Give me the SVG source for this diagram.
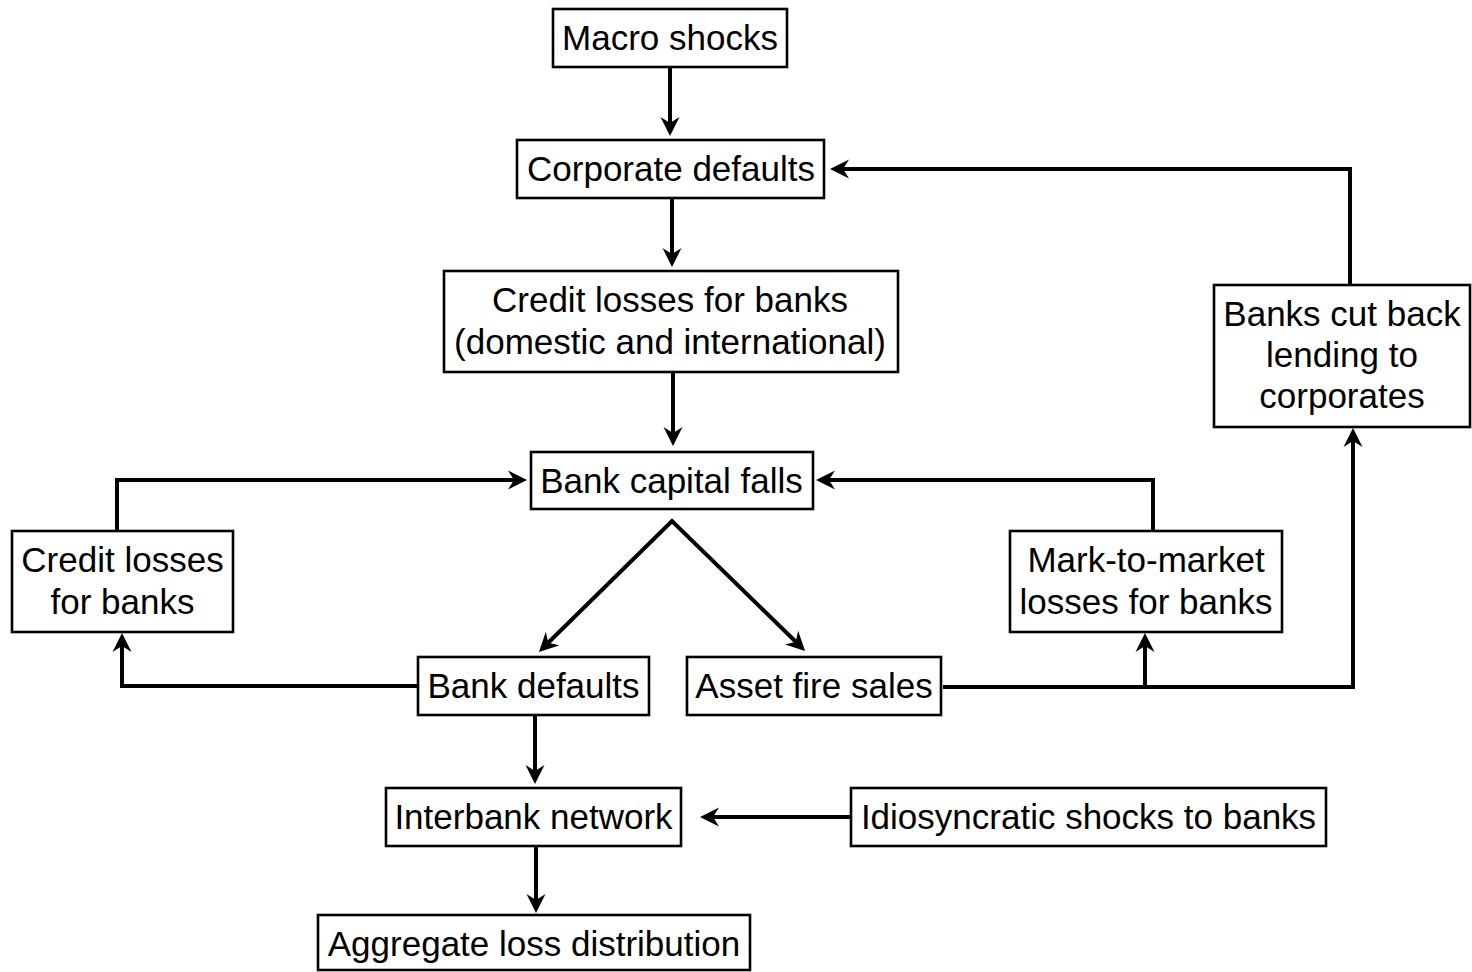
<svg xmlns="http://www.w3.org/2000/svg" width="1472" height="972" viewBox="0 0 1472 972">
<style>
.box{fill:#fff;stroke:#000;stroke-width:2.6}
.t{font-family:"Liberation Sans",Arial,Helvetica,sans-serif;font-size:35px;fill:#000;text-anchor:middle}
.c{fill:none;stroke:#000;stroke-width:4;stroke-linejoin:miter}
.a{marker-end:url(#ah)}
</style>
<defs>
<marker id="ah" markerUnits="userSpaceOnUse" viewBox="0 -10 20 20" markerWidth="20" markerHeight="20" refX="6" refY="0" orient="auto-start-reverse">
<path d="M19,0 L0,-9.5 L6,0 L0,9.5 Z" fill="#000"/>
</marker>
</defs>
<rect width="1472" height="972" fill="#fff"/>
<g id="connectors">
<path class="c a" d="M670,68 V123"/>
<path class="c a" d="M672,198 V254"/>
<path class="c a" d="M673,372 V433"/>
<path class="c a" d="M117,531 V480 H514"/>
<path class="c a" d="M1153,531 V480 H829"/>
<path class="c" d="M548.2,642.8 L672,521 L795.8,641.8" marker-start="url(#ah)" marker-end="url(#ah)"/>
<path class="c a" d="M418,686 H122 V646"/>
<path class="c a" d="M943,687 H1353 V441"/>
<path class="c a" d="M1145,687 V646"/>
<path class="c a" d="M1350,284 V169 H843"/>
<path class="c a" d="M535,715 V771"/>
<path class="c a" d="M851,817 H713"/>
<path class="c a" d="M536,846 V900"/>
</g>
<g id="macro"><rect class="box" x="553" y="9" width="234" height="58"/><text class="t" x="670" y="50">Macro shocks</text></g>
<g id="corporate"><rect class="box" x="517" y="140" width="307" height="58"/><text class="t" x="671" y="181">Corporate defaults</text></g>
<g id="creditdom"><rect class="box" x="444" y="271" width="454" height="101"/><text class="t" x="670" y="312">Credit losses for banks</text><text class="t" x="670" y="354">(domestic and international)</text></g>
<g id="capital"><rect class="box" x="531" y="452" width="282" height="57"/><text class="t" x="671.5" y="493">Bank capital falls</text></g>
<g id="creditleft"><rect class="box" x="12" y="531" width="221" height="101"/><text class="t" x="122.5" y="572">Credit losses</text><text class="t" x="122.5" y="614">for banks</text></g>
<g id="mtm"><rect class="box" x="1010" y="531" width="272" height="101"/><text class="t" x="1146" y="572">Mark-to-market</text><text class="t" x="1146" y="614">losses for banks</text></g>
<g id="cutback"><rect class="box" x="1214" y="285" width="256" height="142"/><text class="t" x="1342" y="326">Banks cut back</text><text class="t" x="1342" y="367">lending to</text><text class="t" x="1342" y="408">corporates</text></g>
<g id="bankdefaults"><rect class="box" x="418" y="657" width="231" height="58"/><text class="t" x="533.5" y="698">Bank defaults</text></g>
<g id="firesales"><rect class="box" x="687" y="657" width="254" height="58"/><text class="t" x="814" y="698">Asset fire sales</text></g>
<g id="interbank"><rect class="box" x="386" y="788" width="295" height="58"/><text class="t" x="533.5" y="829">Interbank network</text></g>
<g id="idio"><rect class="box" x="851" y="788" width="475" height="58"/><text class="t" x="1088.5" y="829">Idiosyncratic shocks to banks</text></g>
<g id="aggregate"><rect class="box" x="318" y="915" width="432" height="55"/><text class="t" x="534" y="956">Aggregate loss distribution</text></g>
</svg>
